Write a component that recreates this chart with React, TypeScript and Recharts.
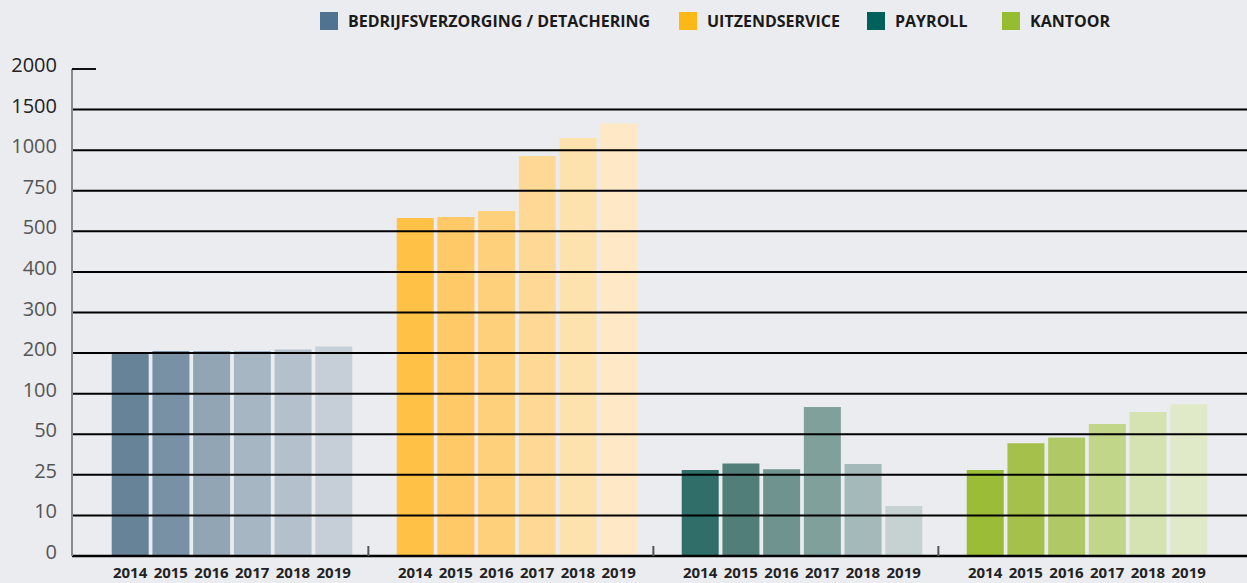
import React from 'react';
import { BarChart, Bar, XAxis, YAxis, Cell, ReferenceLine } from 'recharts';

const tickLabels = ['0', '10', '25', '50', '100', '200', '300', '400', '500', '750', '1000', '1500', '2000'];
const tickValues = [0, 10, 25, 50, 100, 200, 300, 400, 500, 750, 1000, 1500, 2000];
const years = ['2014', '2015', '2016', '2017', '2018', '2019'];
const categories = ['BEDRIJFSVERZORGING / DETACHERING', 'UITZENDSERVICE', 'PAYROLL', 'KANTOOR'];
const bedrijfsverzorging = [200, 205, 205, 205, 209, 216];
const uitzendservice = [582, 588, 626, 964, 1150, 1330];
const payroll = [28, 32, 28.5, 83.5, 31.7, 13.5];
const kantoor = [28, 44.5, 48, 62.5, 77.5, 87];
const seriesValues = [bedrijfsverzorging, uitzendservice, payroll, kantoor];

const legendColors = ['#4f7390', '#fbb817', '#00605a', '#95bd2f'];
const barColors = [
  ['#678397', '#7891a4', '#92a5b4', '#a7b6c3', '#b4c1cc', '#c6ced8'],
  ['#ffc247', '#fec966', '#fed07c', '#fed995', '#fee2ae', '#fee8c6'],
  ['#2f6e69', '#517e79', '#6f938f', '#80a09c', '#a4b9b9', '#c5d2d1'],
  ['#9bbc36', '#a5c04b', '#b1c867', '#c2d68a', '#d5e2b1', '#e0e9c8'],
];

// piecewise mapping of a value onto the evenly spaced tick index scale
function toIndex(v: number): number {
  for (let i = 0; i < tickValues.length - 1; i++) {
    if (v <= tickValues[i + 1]) {
      return i + (v - tickValues[i]) / (tickValues[i + 1] - tickValues[i]);
    }
  }
  return tickValues.length - 1;
}

type Row = { key: string; year: string; pos: number | null; group: number; yi: number; sep: boolean };
const rows: Row[] = [];
categories.forEach((_, g) => {
  rows.push({ key: `sep${g}`, year: '', pos: null, group: g, yi: -1, sep: g > 0 });
  years.forEach((y, yi) => {
    rows.push({ key: `${g}-${y}`, year: y, pos: toIndex(seriesValues[g][yi]), group: g, yi, sep: false });
  });
});

const legendLeft = [320, 679, 867, 1002];

const XTick = (props: any) => {
  const { x, y, index } = props;
  const row = rows[index];
  if (!row) return null;
  if (row.yi < 0) {
    if (!row.sep) return null;
    return <line x1={x - 6} x2={x - 6} y1={y - 10} y2={y} stroke="#555" strokeWidth={2} />;
  }
  return (
    <text x={x} y={y + 22} textAnchor="middle" fontSize={15} fontWeight={700} fill="#222" fontFamily="'Open Sans', sans-serif">
      {row.year}
    </text>
  );
};

const YTick = (props: any) => {
  const { x, y, payload } = props;
  const i = payload.value as number;
  return (
    <g>
      <text x={x} y={y - 4} dy="0.35em" textAnchor="end" fontSize={20} fill={i >= 11 ? '#222' : '#555'} fontFamily="'Open Sans', sans-serif">
        {tickLabels[i]}
      </text>
      {i === 12 && <line x1={72} x2={96} y1={y} y2={y} stroke="#111" strokeWidth={2} />}
    </g>
  );
};

export default function App() {
  return (
    <div style={{ position: 'absolute', left: 0, top: 0, width: 1247, height: 583, background: '#ebecf0', fontFamily: "'Open Sans', sans-serif" }}>
      {categories.map((c, g) => (
        <div key={c} style={{ position: 'absolute', left: legendLeft[g], top: 12, height: 18, display: 'flex', alignItems: 'center', whiteSpace: 'nowrap' }}>
          <div style={{ width: 18, height: 18, background: legendColors[g], marginRight: 10 }} />
          <span style={{ fontSize: 16, fontWeight: 700, color: '#1a1a1a' }}>{c}</span>
        </div>
      ))}
      <BarChart width={1247} height={583} data={rows} margin={{ top: 69, right: 0, bottom: 0, left: 0 }} barCategoryGap={2}>
        <XAxis dataKey="key" type="category" interval={0} tick={<XTick />} tickLine={false} axisLine={false} tickSize={0} tickMargin={0} height={27} padding={{ left: -3, right: 38 }} />
        <YAxis type="number" domain={[0, 12]} ticks={[0, 1, 2, 3, 4, 5, 6, 7, 8, 9, 10, 11, 12]} width={72} tickLine={false} tickSize={0} tickMargin={15} axisLine={{ stroke: '#8a8a8a', strokeWidth: 2 }} tick={<YTick />} />
        <Bar dataKey="pos" isAnimationActive={false}>
          {rows.map((r, i) => (
            <Cell key={i} fill={r.yi < 0 ? 'transparent' : barColors[r.group][r.yi]} />
          ))}
        </Bar>
        {tickValues.slice(0, 12).map((_, i) => (
          <ReferenceLine key={i} y={i} stroke="#000" strokeWidth={i === 0 ? 2.5 : 2} />
        ))}
      </BarChart>
    </div>
  );
}
